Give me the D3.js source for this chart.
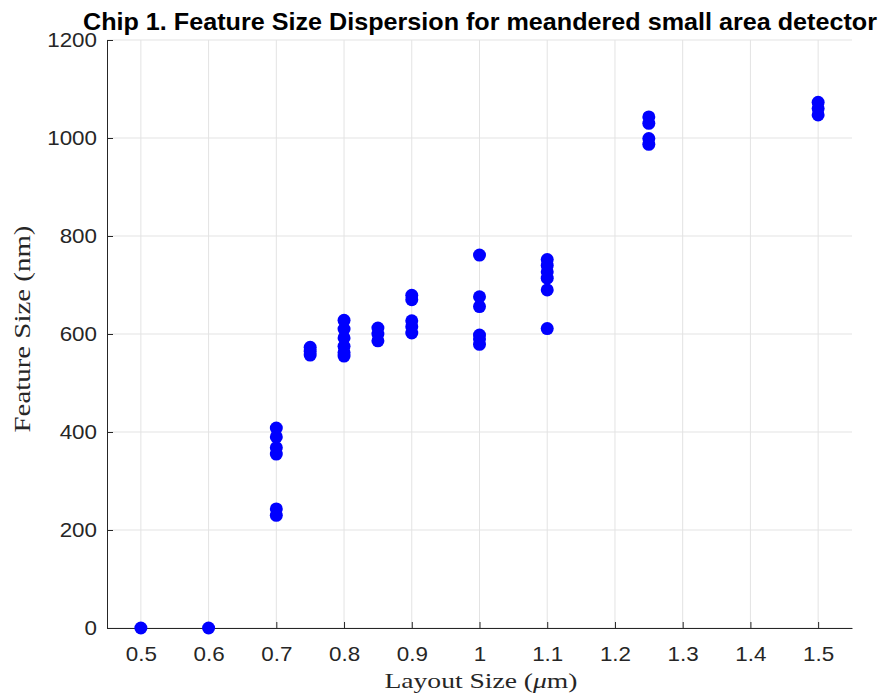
<!DOCTYPE html>
<html>
<head>
<meta charset="utf-8">
<script src="https://cdn.jsdelivr.net/npm/d3@7/dist/d3.min.js"></script>
<style>
  html, body { margin: 0; padding: 0; background: #fff; }
  svg { display: block; }
</style>
</head>
<body>
<svg id="chart" width="883" height="696"></svg>
<script>
// Measured feature sizes (nm) for each layout size (µm)
const layoutSizes = [0.5, 0.6, 0.7, 0.75, 0.8, 0.85, 0.9, 1.0, 1.1, 1.25, 1.5];
const featureSizes = [
  [0],
  [0],
  [408, 390, 368, 355, 243, 230],
  [573, 565, 557],
  [628, 610, 592, 575, 562, 555],
  [612, 600, 586],
  [679, 670, 627, 615, 602],
  [761, 676, 656, 598, 590, 579],
  [752, 740, 727, 714, 690, 611],
  [1043, 1030, 999, 987],
  [1073, 1060, 1047]
];
const xTicks = [0.5, 0.6, 0.7, 0.8, 0.9, 1.0, 1.1, 1.2, 1.3, 1.4, 1.5];
const yTicks = [0, 200, 400, 600, 800, 1000, 1200];

const points = [];
layoutSizes.forEach((x, i) => featureSizes[i].forEach(y => points.push({ x, y })));

const svg = d3.select("#chart");
const margin = { left: 107, right: 31, top: 40, bottom: 68 };
const W = 883, H = 696;

const x = d3.scaleLinear().domain([0.45, 1.55]).range([margin.left, W - margin.right]);
const y = d3.scaleLinear().domain([0, 1200]).range([H - margin.bottom, margin.top]);

const axisColor = "#262626";
const gridColor = "#e3e3e3";
const sansFont = "'Liberation Sans', Arial, sans-serif";
const serifFont = "'Liberation Serif', 'DejaVu Serif', serif";
const tickStretch = 1.12;

// grid
const grid = svg.append("g");
grid.selectAll("line.vx").data(xTicks).join("line")
  .attr("x1", d => x(d)).attr("x2", d => x(d))
  .attr("y1", y(0)).attr("y2", y(1200))
  .attr("stroke", gridColor).attr("stroke-width", 1);
grid.selectAll("line.hy").data(yTicks).join("line")
  .attr("y1", d => y(d)).attr("y2", d => y(d))
  .attr("x1", x(0.45)).attr("x2", x(1.55))
  .attr("stroke", gridColor).attr("stroke-width", 1);

// axes (ticks point inward)
const fmt = d => String(+d.toFixed(2));
const xAxis = svg.append("g")
  .attr("transform", `translate(0,${y(0)})`)
  .call(d3.axisBottom(x).tickValues(xTicks).tickSizeInner(-6).tickSizeOuter(0).tickPadding(19).tickFormat(fmt));
const yAxis = svg.append("g")
  .attr("transform", `translate(${x(0.45)},0)`)
  .call(d3.axisLeft(y).tickValues(yTicks).tickSizeInner(-6).tickSizeOuter(0).tickPadding(10).tickFormat(fmt));

[xAxis, yAxis].forEach(g => {
  g.select(".domain").attr("stroke", axisColor).attr("stroke-width", 1);
  g.selectAll(".tick line").attr("stroke", axisColor);
  g.selectAll(".tick text")
    .attr("fill", axisColor)
    .style("font-family", sansFont)
    .style("font-size", "20px")
    .each(function () {
      const t = d3.select(this);
      const tx = +t.attr("x") || 0;
      t.attr("x", tx / tickStretch).attr("transform", `scale(${tickStretch},1)`);
    });
});

// points
svg.append("g").selectAll("circle").data(points).join("circle")
  .attr("cx", d => x(d.x))
  .attr("cy", d => y(d.y))
  .attr("r", 6.5)
  .attr("fill", "#0000ff");

// title
svg.append("text")
  .attr("x", 480)
  .attr("y", 30)
  .attr("text-anchor", "middle")
  .attr("textLength", 794)
  .attr("lengthAdjust", "spacingAndGlyphs")
  .style("font-family", sansFont)
  .style("font-weight", "bold")
  .style("font-size", "24.5px")
  .attr("fill", "#000")
  .text("Chip 1. Feature Size Dispersion for meandered small area detector");

// axis labels
const xl = svg.append("text")
  .attr("x", 481)
  .attr("y", 688)
  .attr("text-anchor", "middle")
  .attr("textLength", 193)
  .attr("lengthAdjust", "spacingAndGlyphs")
  .style("font-family", serifFont)
  .style("font-size", "22px")
  .attr("fill", axisColor);
xl.append("tspan").text("Layout Size (");
xl.append("tspan").style("font-style", "italic").text("\u03bc");
xl.append("tspan").text("m)");

svg.append("text")
  .attr("transform", `translate(30,329) rotate(-90)`)
  .attr("text-anchor", "middle")
  .attr("textLength", 207)
  .attr("lengthAdjust", "spacingAndGlyphs")
  .style("font-family", serifFont)
  .style("font-size", "23px")
  .attr("fill", axisColor)
  .text("Feature Size (nm)");
</script>
</body>
</html>
